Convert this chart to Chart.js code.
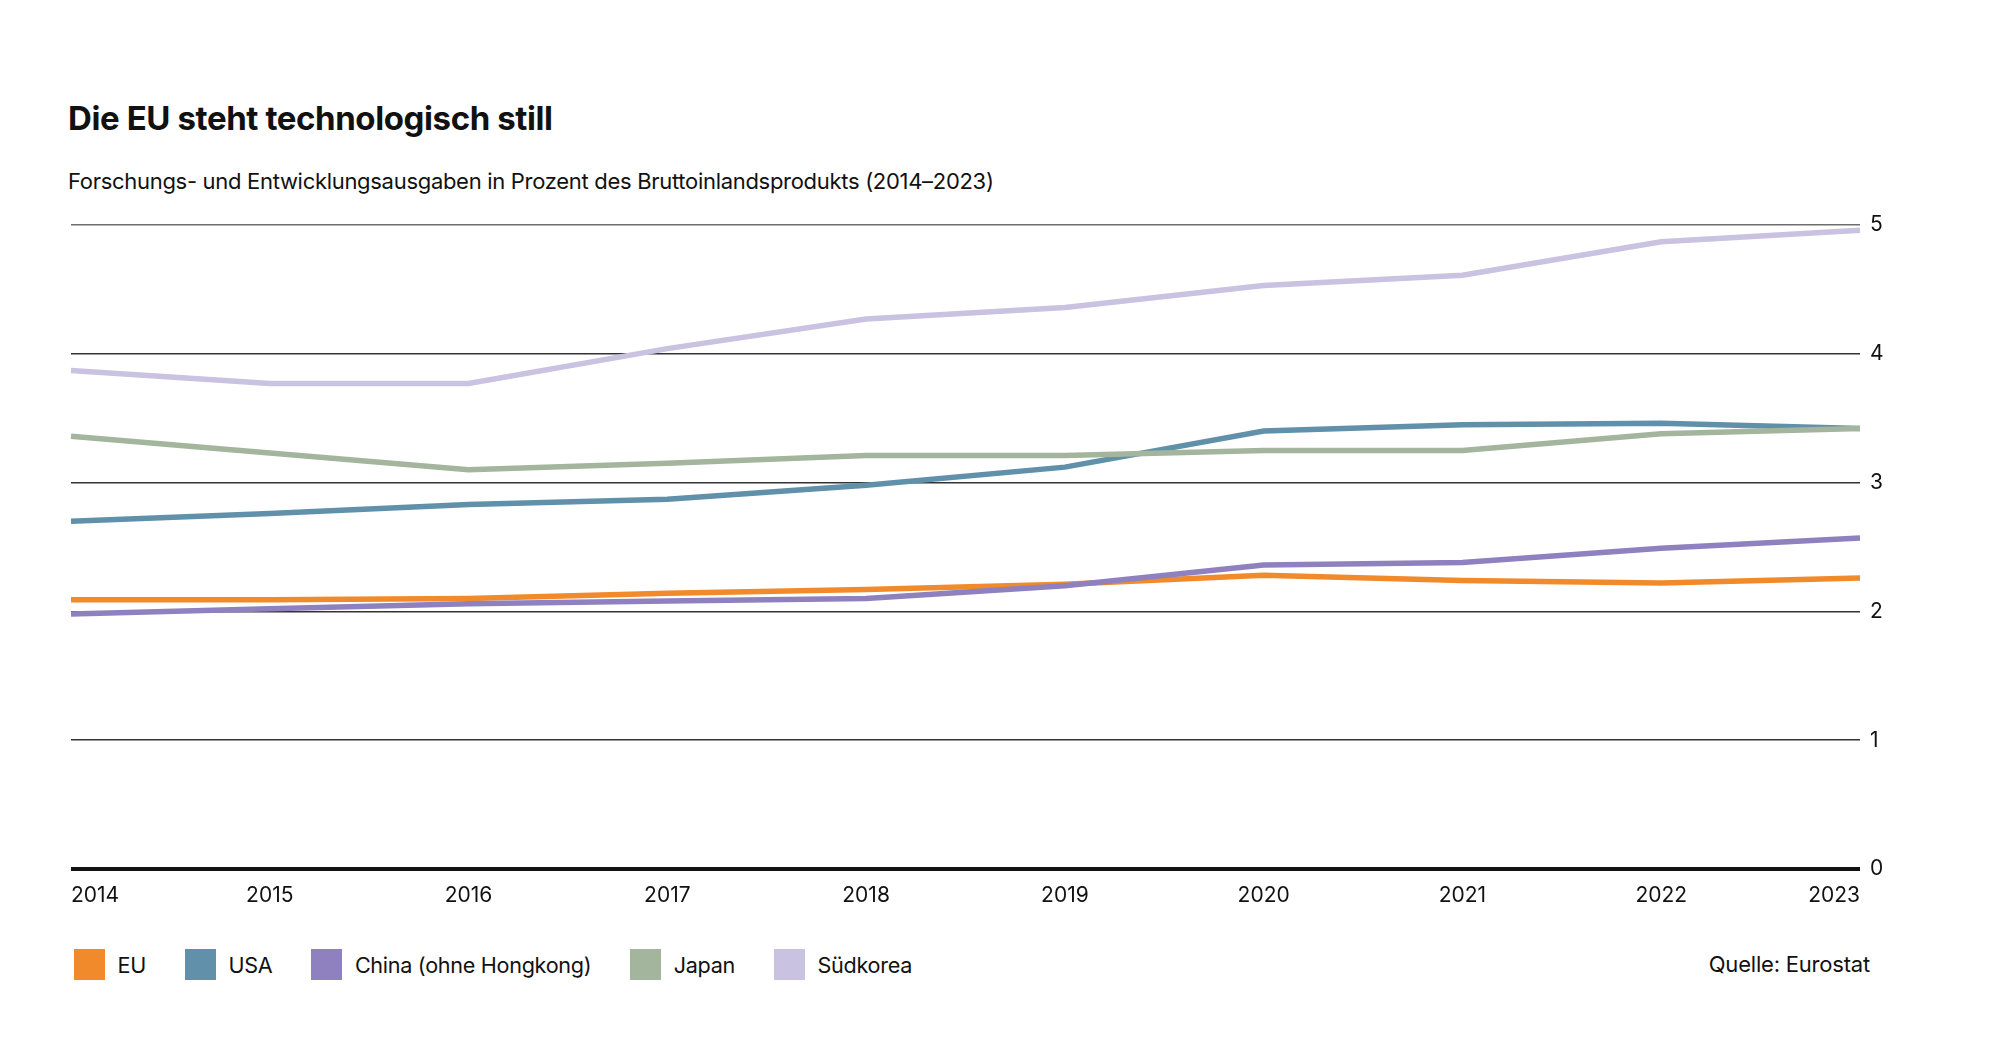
<!DOCTYPE html>
<html lang="de">
<head>
<meta charset="utf-8">
<script src="https://cdn.jsdelivr.net/npm/chart.js@4/dist/chart.umd.min.js"></script>
<style>
    html, body { margin: 0; padding: 0; background: #fff; }
    body { width: 2000px; height: 1063px; position: relative; font-family: Inter, "Noto Sans", sans-serif; color: #111; }
    #title { position: absolute; left: 68px; top: 98px; font-size: 33px; font-weight: 700; letter-spacing: -0.4px; margin: 0; }
    #subtitle { position: absolute; left: 68px; top: 168px; font-size: 22px; letter-spacing: -0.3px; margin: 0; }
    #wrap { position: absolute; left: 0; top: 190px; }
    #legend { position: absolute; left: 74px; top: 949px; display: flex; align-items: center; font-size: 21.6px; letter-spacing: -0.3px; }
    .item { display: flex; align-items: center; margin-right: 39px; }
    .sw { width: 31px; height: 31px; margin-right: 12.5px; }
    #source { position: absolute; right: 130px; top: 951px; font-size: 22px; letter-spacing: -0.2px; }
</style>
</head>
<body>
<h1 id="title">Die EU steht technologisch still</h1>
<p id="subtitle">Forschungs- und Entwicklungsausgaben in Prozent des Bruttoinlandsprodukts (2014–2023)</p>
<div id="wrap"><canvas id="rdChart" width="2000" height="729"></canvas></div>
<div id="legend"></div>
<div id="source">Quelle: Eurostat</div>
<script>
var years = ['2014', '2015', '2016', '2017', '2018', '2019', '2020', '2021', '2022', '2023'];
var yTicks = [0, 1, 2, 3, 4, 5];
var seriesNames = ['EU', 'USA', 'China (ohne Hongkong)', 'Japan', 'Südkorea'];
var seriesColors = ['#f18a2b', '#6190ab', '#8f81bf', '#a3b59d', '#c9c2e1'];
var eu = [2.09, 2.09, 2.10, 2.14, 2.17, 2.21, 2.28, 2.24, 2.22, 2.26];
var usa = [2.70, 2.76, 2.83, 2.87, 2.98, 3.12, 3.40, 3.45, 3.46, 3.42];
var china = [1.98, 2.02, 2.06, 2.08, 2.10, 2.20, 2.36, 2.38, 2.49, 2.57];
var japan = [3.36, 3.23, 3.10, 3.15, 3.21, 3.21, 3.25, 3.25, 3.38, 3.42];
var korea = [3.87, 3.77, 3.77, 4.04, 4.27, 4.36, 4.53, 4.61, 4.87, 4.96];

var values = [eu, usa, china, japan, korea];

// legend as plain html
var legend = document.getElementById('legend');
seriesNames.forEach(function (name, i) {
    var item = document.createElement('div');
    item.className = 'item';
    item.innerHTML = '<span class="sw" style="background:' + seriesColors[i] + '"></span><span>' + name + '</span>';
    legend.appendChild(item);
});

var tickFont = { family: 'Inter', size: 21 };

new Chart(document.getElementById('rdChart').getContext('2d'), {
    type: 'line',
    data: {
        labels: years,
        datasets: seriesNames.map(function (name, i) {
            return {
                label: name,
                data: values[i],
                borderColor: seriesColors[i],
                backgroundColor: seriesColors[i],
                borderWidth: 5.5,
                pointRadius: 0,
                tension: 0,
                fill: false
            };
        }).reverse()
    },
    options: {
        responsive: false,
        animation: false,
        layout: { padding: { left: 71, right: 100, top: 35, bottom: 0 } },
        plugins: {
            legend: { display: false },
            tooltip: { enabled: false }
        },
        scales: {
            x: {
                offset: false,
                grid: { display: false, drawTicks: false },
                border: { display: false },
                ticks: {
                    align: 'inner',
                    maxRotation: 0,
                    autoSkip: false,
                    padding: 14,
                    color: '#111',
                    font: tickFont
                },
                afterFit: function (scale) { scale.height = 50; }
            },
            y: {
                position: 'right',
                min: 0,
                max: 5,
                afterBuildTicks: function (scale) {
                    scale.ticks = yTicks.map(function (v) { return { value: v }; });
                },
                grid: {
                    drawTicks: false,
                    color: function (c) {
                        if (c.tick.value === 0) return '#111';
                        if (c.tick.value === 5) return '#6e6e6e';
                        return '#333';
                    },
                    lineWidth: function (c) {
                        return c.tick.value === 0 ? 4 : 1.5;
                    }
                },
                border: { display: false },
                ticks: {
                    padding: 10,
                    color: '#111',
                    font: tickFont
                },
                afterFit: function (scale) { scale.width = 40; }
            }
        }
    }
});
</script>
</body>
</html>
